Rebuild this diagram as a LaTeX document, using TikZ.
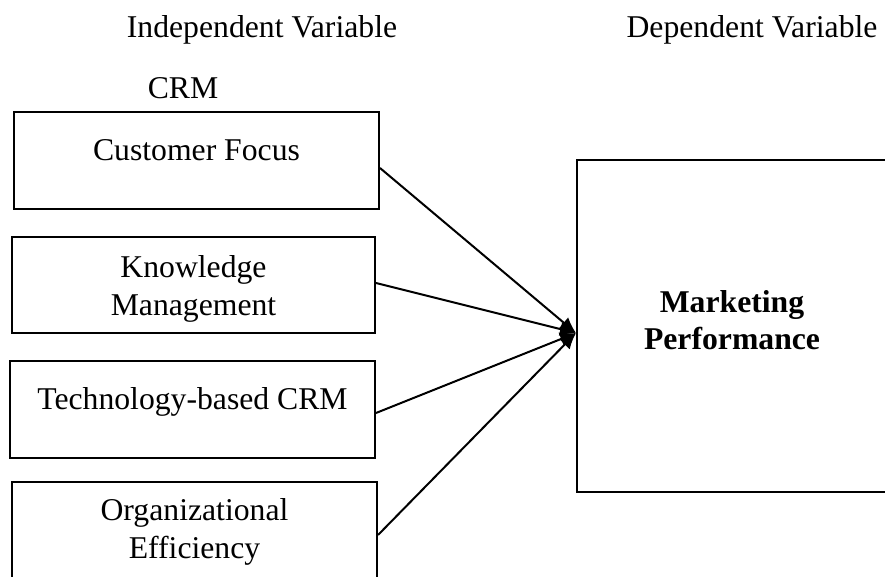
\documentclass[tikz,border=0pt]{standalone}
\usepackage{fontspec}
\setmainfont{Liberation Serif}
\usetikzlibrary{arrows.meta,positioning}

\begin{document}
\begin{tikzpicture}[
  x=1pt, y=-1pt,
  every node/.style={font=\fontsize{31.7}{38}\selectfont},
  box/.style={draw, line width=2pt, minimum width=365pt, minimum height=97pt, inner sep=0pt},
  txt/.style={align=center, anchor=base, inner sep=0pt},
  arr/.style={-{Latex[length=16pt,width=14pt]}, line width=2pt}
]
  \useasboundingbox (0,0) rectangle (885,576);
  % Headings
  \node[txt] (indep) at (262,37) {Independent Variable};
  \node[txt] (dep)   at (752,37) {Dependent Variable};
  \node[txt] (crm)   at (183,98) {CRM};
  % Boxes
  \node[box] (cf) at (196.5,160.5) {};
  \node[box, minimum width=363pt, minimum height=96pt] (km) at (193.5,285) {};
  \node[box] (tc) at (192.5,409.5) {};
  \node[box] (oe) at (194.5,530.5) {};
  \node[box, minimum width=310pt, minimum height=332pt] (mp) at (732,326) {};
  % Box texts (base = last line)
  \node[txt] (cftext) at (cf.center) {Customer Focus};
  \node[txt] (kmtext) at ([yshift=-30pt]km.center) {Knowledge\\Management};
  \node[txt] (tctext) at (tc.center) {Technology-based CRM};
  \node[txt] (oetext) at ([yshift=-27.5pt]oe.center) {Organizational\\Efficiency};
  \node[txt, font=\fontsize{31.7}{37}\selectfont\bfseries] (mptext) at ([yshift=-23pt]mp.center) {Marketing\\Performance};
  % Arrows
  \coordinate (hit) at ([yshift=-7pt]mp.west);
  \draw[arr] ([yshift=-7.5pt]cf.east) -- (hit);
  \draw[arr] ([yshift=2pt]km.east) -- (hit);
  \draw[arr] ([yshift=-3.5pt]tc.east) -- (hit);
  \draw[arr] ([yshift=-4.5pt]oe.east) -- (hit);
\end{tikzpicture}
\end{document}
